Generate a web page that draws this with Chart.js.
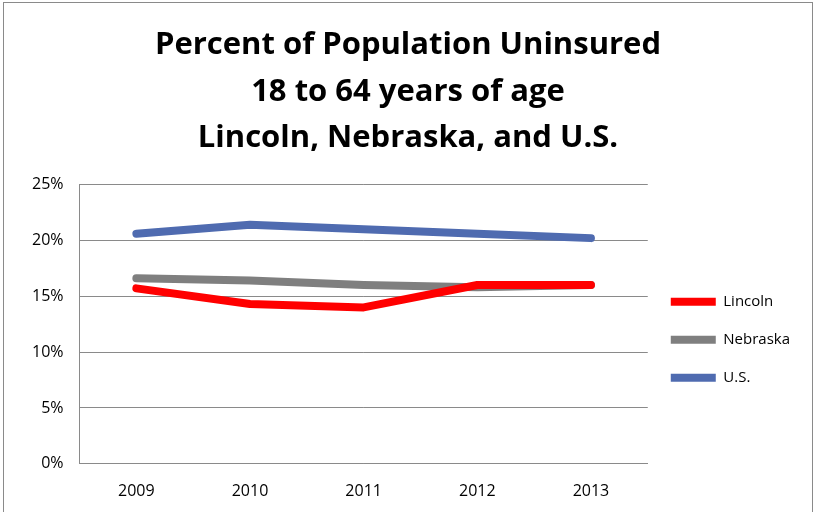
<!DOCTYPE html>
<html>
<head>
<meta charset="utf-8">
<script src="https://cdn.jsdelivr.net/npm/chart.js@4.4.0/dist/chart.umd.min.js"></script>
<style>
  body { margin: 0; background: #fff; overflow: hidden; }
  #frame { position: absolute; left: 3px; top: 2px; width: 808px; height: 530px; border: 1px solid #8a8a8a; }
  #frame canvas { position: absolute; left: 0; top: 0; }
</style>
</head>
<body>
<div id="frame"><canvas id="chart" width="808" height="526"></canvas></div>
<script>
// Uninsured rate, 18-64 years old (percent)
let years = ['2009', '2010', '2011', '2012', '2013']
let lincoln = [15.7, 14.3, 14.0, 16.0, 16.0]
let nebraska = [16.6, 16.4, 16.0, 15.8, 16.0]
let us = [20.6, 21.4, 21.0, 20.6, 20.2]
let titleLines = ['Percent of Population Uninsured', '18 to 64 years of age', 'Lincoln, Nebraska, and U.S.']

let font = "'Open Sans', 'Liberation Sans', sans-serif"

let makeSet = (label, data, color) => ({
	label,
	data,
	borderColor: color,
	backgroundColor: color,
	borderWidth: 8,
	borderCapStyle: 'round',
	borderJoinStyle: 'round',
	pointRadius: 0,
	tension: 0,
})

var chart = new Chart(document.getElementById('chart'), {
	type: 'line',
	data: {
		labels: years,
		datasets: [
			makeSet('Lincoln', lincoln, '#ff0000'),
			makeSet('Nebraska', nebraska, '#7f7f7f'),
			makeSet('U.S.', us, '#4f6bb0'),
		]
	},
	options: {
		responsive: false,
		animation: false,
		layout: { padding: { top: 19, left: 12, right: 12, bottom: 10 } },
		plugins: {
			title: {
				display: true,
				text: titleLines,
				color: '#000',
				font: { family: font, size: 31, weight: 'bold', lineHeight: 1.5 },
				padding: { top: 0, bottom: 23 },
			},
			legend: {
				position: 'right',
				align: 'center',
				// empty legend title only pushes the entries down next to the plot
				title: { display: true, text: ' ', padding: { top: 0, bottom: 124 } },
				labels: {
					color: '#000',
					font: { family: font, size: 15 },
					usePointStyle: true,
					pointStyle: 'line',
					pointStyleWidth: 45,
					padding: 23,
				}
			},
			tooltip: { enabled: false }
		},
		scales: {
			x: {
				offset: true,
				grid: { display: false, drawTicks: false },
				border: { color: '#8a8a8a' },
				ticks: { color: '#000', font: { family: font, size: 16 }, padding: 18 },
			},
			y: {
				min: 0,
				max: 25,
				grid: { color: '#8a8a8a', drawTicks: false },
				border: { color: '#8a8a8a' },
				ticks: {
					stepSize: 5,
					color: '#000',
					font: { family: font, size: 16 },
					padding: 16,
					callback: v => v + '%'
				}
			}
		}
	}
})
</script>
</body>
</html>
